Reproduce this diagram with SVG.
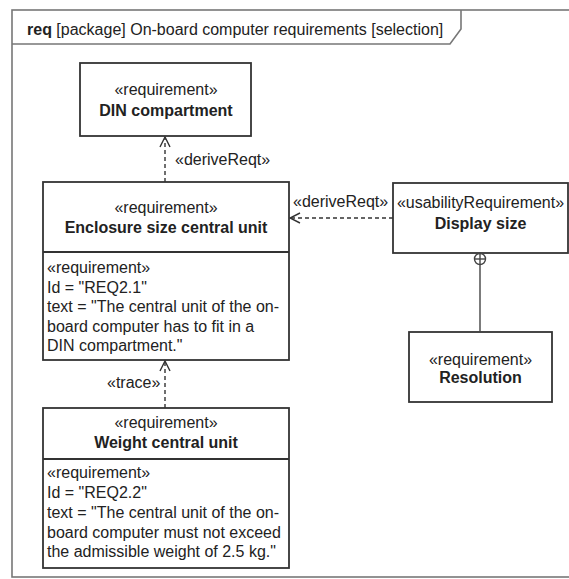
<svg xmlns="http://www.w3.org/2000/svg" width="569" height="579" viewBox="0 0 569 579">
  <style>
    text { font-family: "Liberation Sans", Arial, sans-serif; font-size: 16px; fill: #222; }
    .b { font-weight: bold; }
    .c { text-anchor: middle; }
    .box { fill: #fff; stroke: #333; stroke-width: 1.8; }
    .frame { fill: none; stroke: #777; stroke-width: 1.6; }
    .dep { fill: none; stroke: #333; stroke-width: 1.4; stroke-dasharray: 4 3; }
    .solid { fill: none; stroke: #444; stroke-width: 1.4; }
  </style>
  <defs>
    <marker id="open" viewBox="0 0 12 12" refX="11" refY="6" markerWidth="12" markerHeight="12" markerUnits="userSpaceOnUse" orient="auto">
      <path d="M1,1 L11,6 L1,11" fill="none" stroke="#333" stroke-width="1.4"/>
    </marker>
  </defs>
  <rect width="569" height="579" fill="#fff"/>

  <!-- diagram frame with name tab -->
  <g id="frame">
    <rect class="frame" x="12" y="10" width="600" height="567"/>
    <path class="frame" d="M12,44 L450,44 L461,29 L461,10"/>
    <text x="27" y="35"><tspan class="b">req</tspan> [package] On-board computer requirements [selection]</text>
  </g>

  <g id="din">
    <rect class="box" x="80" y="63" width="171" height="73"/>
    <text class="c" x="166" y="95">«requirement»</text>
    <text class="c b" x="166" y="116">DIN compartment</text>
  </g>

  <g id="enclosure">
    <rect class="box" x="43" y="182" width="246" height="178"/>
    <line class="box" x1="43" y1="252" x2="289" y2="252"/>
    <text class="c" x="166" y="213">«requirement»</text>
    <text class="c b" x="166" y="233">Enclosure size central unit</text>
    <text x="47" y="273">«requirement»</text>
    <text x="47" y="292.5">Id = "REQ2.1"</text>
    <text x="47" y="312">text = "The central unit of the on-</text>
    <text x="47" y="331.5">board computer has to fit in a</text>
    <text x="47" y="351">DIN compartment."</text>
  </g>

  <g id="display">
    <rect class="box" x="393" y="183" width="175" height="70"/>
    <text class="c" x="480.5" y="208">«usabilityRequirement»</text>
    <text class="c b" x="480.5" y="229">Display size</text>
  </g>

  <g id="resolution">
    <rect class="box" x="409" y="332" width="143" height="70"/>
    <text class="c" x="480.5" y="365">«requirement»</text>
    <text class="c b" x="480.5" y="383">Resolution</text>
  </g>

  <g id="weight">
    <rect class="box" x="43" y="408" width="246" height="160"/>
    <line class="box" x1="43" y1="459" x2="289" y2="459"/>
    <text class="c" x="166" y="428">«requirement»</text>
    <text class="c b" x="166" y="448">Weight central unit</text>
    <text x="47" y="478">«requirement»</text>
    <text x="47" y="498">Id = "REQ2.2"</text>
    <text x="47" y="518">text = "The central unit of the on-</text>
    <text x="47" y="538">board computer must not exceed</text>
    <text x="47" y="557">the admissible weight of 2.5 kg."</text>
  </g>

  <g id="connectors">
    <!-- deriveReqt: Enclosure -> DIN compartment -->
    <line class="dep" x1="165" y1="182" x2="165" y2="137" marker-end="url(#open)"/>
    <text x="175" y="165">«deriveReqt»</text>
    <!-- deriveReqt: Display size -> Enclosure -->
    <line class="dep" x1="393" y1="218" x2="290" y2="218" marker-end="url(#open)"/>
    <text x="293" y="207">«deriveReqt»</text>
    <!-- trace: Weight -> Enclosure -->
    <line class="dep" x1="165" y1="408" x2="165" y2="361" marker-end="url(#open)"/>
    <text x="107" y="388">«trace»</text>
    <!-- containment: Display size owns Resolution -->
    <circle class="solid" cx="480" cy="259" r="5.5" fill="#fff"/>
    <line class="solid" x1="474.5" y1="259" x2="485.5" y2="259"/>
    <line class="solid" x1="480" y1="253.5" x2="480" y2="264.5"/>
    <line class="solid" x1="480" y1="264.5" x2="480" y2="332"/>
  </g>
</svg>
